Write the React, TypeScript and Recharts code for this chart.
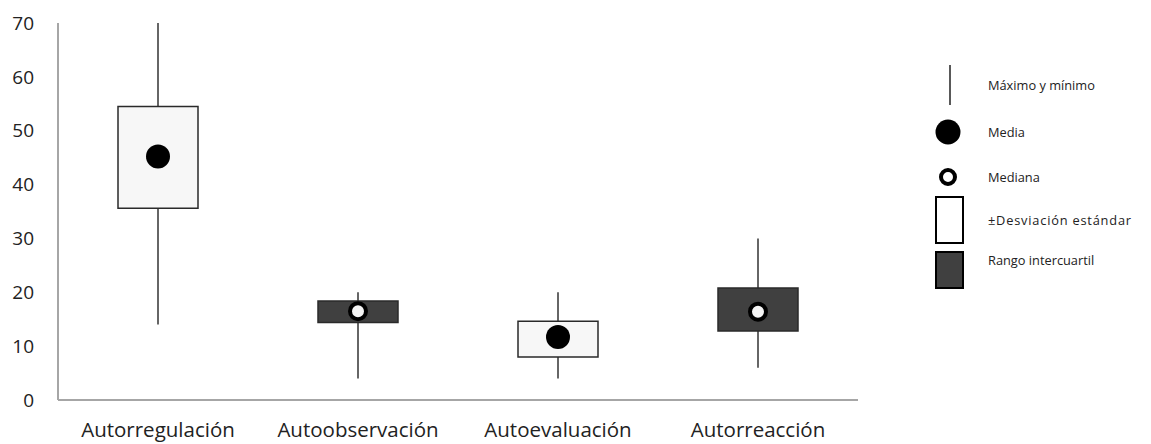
import { ComposedChart, Bar, Cell, Scatter, XAxis, YAxis } from 'recharts';

// categories and values
const categories = ['Autorregulación', 'Autoobservación', 'Autoevaluación', 'Autorreacción'];
const minValues = [14, 4, 4, 6];
const maxValues = [70, 20, 20, 30];
const boxLow = [35.6, 14.4, 8.0, 12.8];
const boxHigh = [54.5, 18.4, 14.6, 20.8];
// 'sd' = ±Desviación estándar (light box), 'iqr' = Rango intercuartil (dark box)
const boxKind = ['sd', 'iqr', 'sd', 'iqr'];
const mediaValues = [45.2, null, 11.7, null];
const medianaValues = [null, 16.5, null, 16.4];
const yTicks = [0, 10, 20, 30, 40, 50, 60, 70];

const legendItems = ['Máximo y mínimo', 'Media', 'Mediana', '±Desviación estándar', 'Rango intercuartil'];

const data = categories.map((name, i) => ({
  name,
  whisker: [minValues[i], maxValues[i]],
  box: [boxLow[i], boxHigh[i]],
  kind: boxKind[i],
  media: mediaValues[i],
  mediana: medianaValues[i],
}));

const FONT = '"Open Sans", sans-serif';
const LIGHT = '#f7f7f7';
const DARK = '#404040';

const WhiskerShape = (props: any) => {
  const { x, y, width, height } = props;
  const cx = x + width / 2;
  return <line x1={cx} x2={cx} y1={y} y2={y + height} stroke="#333" strokeWidth={1.5} />;
};

const MediaDot = (props: any) => {
  const { cx, cy } = props;
  if (cx == null || cy == null) return null;
  return <circle cx={cx} cy={cy} r={12} fill="#000" />;
};

const MedianaDot = (props: any) => {
  const { cx, cy } = props;
  if (cx == null || cy == null) return null;
  return <circle cx={cx} cy={cy} r={8} fill="#f4f4f4" stroke="#000" strokeWidth={4} />;
};

// legend drawn next to the chart
const ChartLegend = () => {
  const textCenters = [85, 132, 177, 220, 260];
  return (
    <div style={{ position: 'absolute', left: 0, top: 0, width: 1151, height: 444, pointerEvents: 'none' }}>
      <svg width={1151} height={444} style={{ position: 'absolute', left: 0, top: 0 }}>
        <line x1={950} x2={950} y1={65} y2={105} stroke="#222" strokeWidth={1.5} />
        <circle cx={948} cy={132} r={12.5} fill="#000" />
        <circle cx={948} cy={177} r={7} fill="#fff" stroke="#000" strokeWidth={4} />
        <rect x={936} y={197} width={27} height={46} fill="#fff" stroke="#000" strokeWidth={2} />
        <rect x={936} y={252} width={27} height={36} fill={DARK} stroke="#000" strokeWidth={2} />
      </svg>
      {legendItems.map((label, i) => (
        <span
          key={label}
          style={{
            position: 'absolute',
            left: 988,
            top: textCenters[i] - 10,
            lineHeight: '20px',
            fontFamily: FONT,
            fontSize: 12.8,
            letterSpacing: i === 3 ? 0.8 : 0,
            color: '#222',
            whiteSpace: 'nowrap',
          }}
        >
          {label}
        </span>
      ))}
    </div>
  );
};

export default function App() {
  return (
    <div style={{ position: 'absolute', left: 0, top: 0, width: 1151, height: 444, background: '#fff' }}>
      <ComposedChart
        width={1151}
        height={444}
        data={data}
        margin={{ top: 23, right: 293, left: 0, bottom: 0 }}
      >
        <XAxis
          dataKey="name"
          xAxisId="main"
          height={44}
          axisLine={{ stroke: '#a6a6a6', strokeWidth: 2 }}
          tickLine={false}
          tickMargin={16}
          tick={{ fontFamily: FONT, fontSize: 20.5, fill: '#222' }}
          interval={0}
        />
        <XAxis dataKey="name" xAxisId="w" hide height={0} />
        <XAxis dataKey="name" xAxisId="b" hide height={0} />
        <YAxis
          width={58}
          domain={[0, 70]}
          ticks={yTicks}
          axisLine={{ stroke: '#a6a6a6', strokeWidth: 2 }}
          tickLine={false}
          tickSize={0}
          tickMargin={24}
          tick={{ fontFamily: FONT, fontSize: 19, fill: '#222' }}
        />
        <Bar dataKey="whisker" xAxisId="w" barSize={6} shape={WhiskerShape} isAnimationActive={false} />
        <Bar dataKey="box" xAxisId="b" barSize={80} stroke="#2a2a2a" strokeWidth={1.5} isAnimationActive={false}>
          {data.map((d) => (
            <Cell key={d.name} fill={d.kind === 'sd' ? LIGHT : DARK} />
          ))}
        </Bar>
        <Scatter dataKey="media" xAxisId="main" shape={MediaDot} isAnimationActive={false} />
        <Scatter dataKey="mediana" xAxisId="main" shape={MedianaDot} isAnimationActive={false} />
      </ComposedChart>
      <ChartLegend />
    </div>
  );
}
